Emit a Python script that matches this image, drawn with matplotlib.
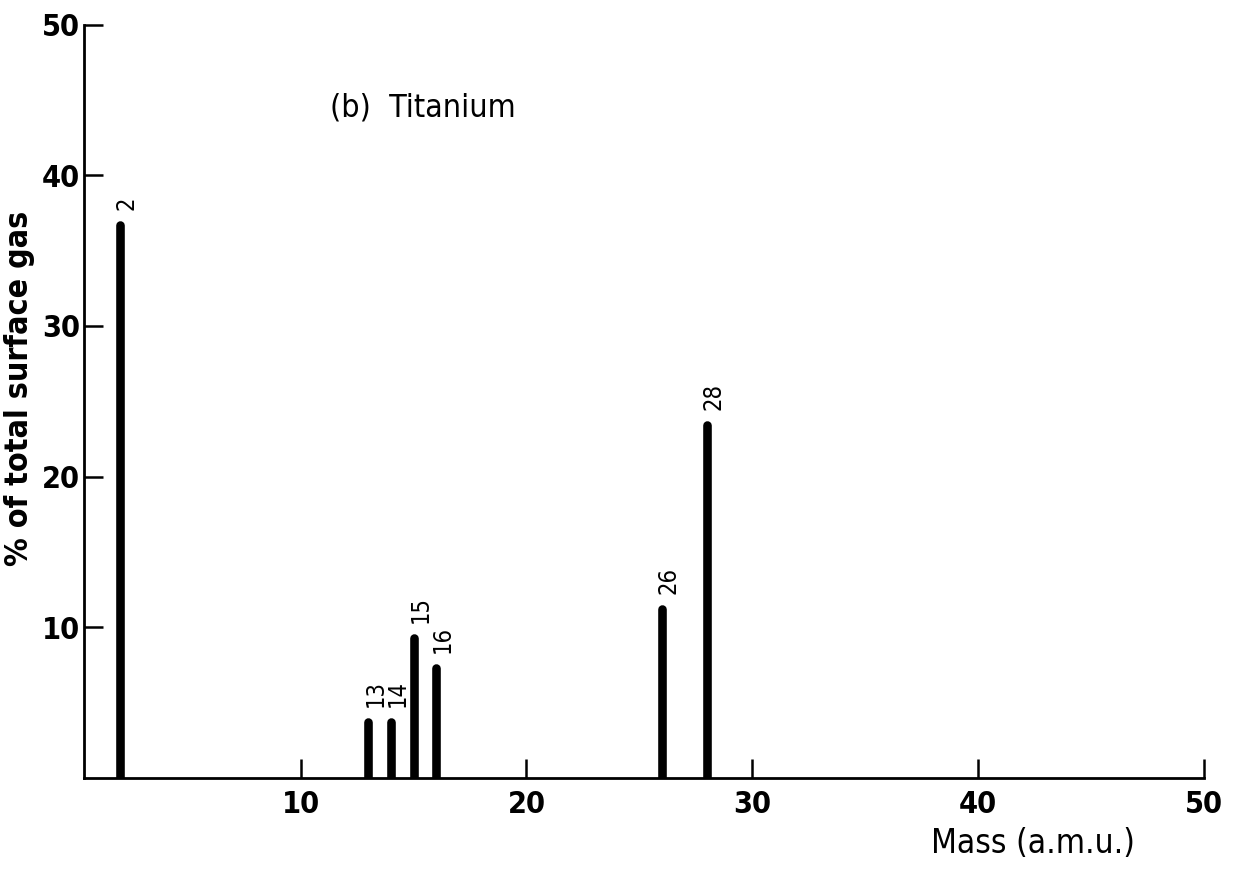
import numpy as np
import matplotlib.pyplot as plt

# peak data
masses = [2, 13, 14, 15, 16, 26, 28]
percent = [36.7, 3.7, 3.7, 9.3, 7.3, 11.2, 23.4]
peak_labels = ['2', '13', '14', '15', '16', '26', '28']
ticks = [10, 20, 30, 40, 50]
yticks = [10, 20, 30, 40, 50]

plt.rcParams['font.family'] = ['DejaVu Sans']

fig = plt.figure(figsize=(12.34, 8.82), dpi=100)
ax = fig.add_axes([0.068, 0.118, 0.9076, 0.854])

ax.vlines(masses, 0, percent, colors='black', linewidth=6.2, capstyle='round')

for m, p, lab in zip(masses, percent, peak_labels):
    ax.text(m + 0.3, p + 1.0, lab, rotation=90, ha='center', va='bottom',
            fontsize=17, fontstretch='condensed', fontweight='medium')

ax.set_xlim(0.4, 50)
ax.set_ylim(0, 50)
ax.set_xticks(ticks)
ax.set_yticks(yticks)
ax.tick_params(direction='in', length=14, width=1.8, labelsize=22)
ax.tick_params(axis='y', pad=3)
ax.tick_params(axis='x', pad=9)
for lab in ax.get_xticklabels() + ax.get_yticklabels():
    lab.set_fontstretch('condensed')
    lab.set_fontweight('bold')

for s in ['top', 'right']:
    ax.spines[s].set_visible(False)
for s in ['left', 'bottom']:
    ax.spines[s].set_linewidth(2)

# y label sits a bit above centre in the original
fig.text(0.016, 0.56, '% of total surface gas', fontsize=23, fontweight='bold',
         fontstretch='condensed', rotation=90, ha='center', va='center')
ax.text(11.3, 44.5, '(b)  Titanium', fontsize=23, fontweight='medium',
        fontstretch='condensed', va='center', ha='left')
fig.text(0.92, 0.044, 'Mass (a.m.u.)', fontsize=24, fontweight='medium',
         fontstretch='condensed', ha='right', va='center')

fig.savefig('out.png', dpi=100)
